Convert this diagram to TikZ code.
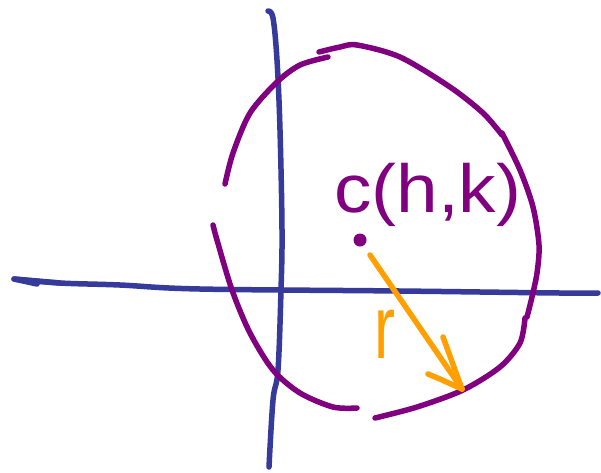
\documentclass[tikz,border=0pt]{standalone}
\usepackage{fontspec}
\setmainfont{Liberation Sans}
\definecolor{axisblue}{RGB}{54,58,154}
\definecolor{circpurple}{RGB}{128,0,128}
\definecolor{radorange}{RGB}{255,160,0}
\tikzset{
  axisline/.style={draw=axisblue, line width=5.5pt, line cap=round, line join=round},
  circstroke/.style={draw=circpurple, line width=5.5pt, line cap=round, line join=round},
  radstroke/.style={draw=radorange, line width=5.5pt, line cap=round, line join=round},
}
\begin{document}
\begin{tikzpicture}[x=1pt, y=-1pt]
\useasboundingbox[fill=white] (0,0) rectangle (601,472);
% axes
\draw[axisline] plot[smooth, tension=0.6] coordinates {(268,11) (273,18) (277,60) (280,130) (282,230) (281,290) (278,370) (273,400) (269,467)};
\draw[axisline] (37,284) -- (14,279) -- (60,283);
\draw[axisline] plot[smooth, tension=0.6] coordinates {(14,279) (60,283) (120,285) (200,289) (400,291) (560,293) (598,293)};
% circle strokes
\draw[circstroke] plot[smooth] coordinates {(225,184) (233,153) (250,113) (277,82) (300,65) (328,57)};
\draw[circstroke] plot[smooth] coordinates {(319,52) (340,47) (357,45) (400,57) (450,87) (483,113) (502,135)};
\draw[circstroke] plot[smooth] coordinates {(502,133) (520,170) (533,207) (539,245) (537,273) (532,297) (527,317)};
\draw[circstroke] plot[smooth] coordinates {(525,318) (520,343) (500,367) (463,390) (417,407) (375,418)};
\draw[circstroke] plot[smooth] coordinates {(213,225) (217,240) (232,290) (250,333) (273,370) (300,393) (333,407) (357,408)};
% centre point and label
\node[circle, fill=circpurple, inner sep=0pt, minimum size=13pt] (ctr) at (360,240) {};
\node[anchor=base west, text=circpurple, font=\fontsize{68}{72}\selectfont, inner sep=0pt, xscale=1.1] (lbl) at (334,212) {c(h,k)};
% radius
\coordinate (rend) at (462,389);
\draw[radstroke] (370,255) -- (rend);
\draw[radstroke] (443,337) -- (rend);
\draw[radstroke] (428,374) -- (440,379) -- (rend);
\node[anchor=base, text=radorange, font=\fontsize{90}{96}\selectfont, inner sep=0pt, xscale=0.7] (rlbl) at (385,358) {r};
\end{tikzpicture}
\end{document}
